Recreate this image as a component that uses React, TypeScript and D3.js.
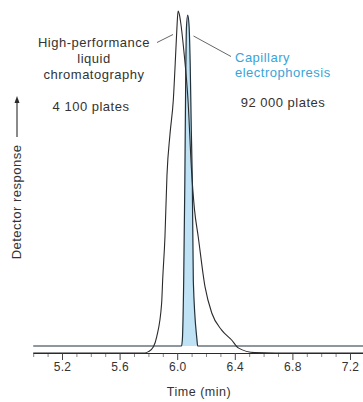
import React, { useRef, useEffect } from "react";
import * as d3 from "d3";

// ── Data (time in min, detector response in % of HPLC peak) ──────────────────

const HPLC_TIME = [5.0, 5.776, 5.8, 5.835, 5.858, 5.892, 5.899, 5.915, 5.929, 5.95, 5.973, 5.99, 5.998, 6.006, 6.015, 6.023, 6.047, 6.075, 6.1, 6.12, 6.146, 6.193, 6.24, 6.309, 6.378, 6.424, 6.54, 6.68, 7.3];
const HPLC_RESP = [0, 0, 0.4, 1.8, 4.8, 14.6, 21.3, 34, 52, 64, 74, 88, 95, 100, 99, 97, 88, 74, 53, 42, 34, 19.4, 11.7, 6.7, 3.8, 1.5, 0.1, 0, 0];

const CE_BASE = 2.05;
const CE_TIME = [5.0, 6.03, 6.036, 6.045, 6.053, 6.059, 6.064, 6.073, 6.082, 6.09, 6.098, 6.105, 6.112, 6.137, 6.142, 7.3];
const CE_RESP = [2.05, 2.05, 4, 21, 50, 80, 95, 98.8, 96, 85, 65, 50, 21, 4, 2.05, 2.05];

const MAJOR_TICKS = [5.2, 5.6, 6.0, 6.4, 6.8, 7.2];
const MINOR_TICKS = [5.0, 5.1, 5.3, 5.4, 5.5, 5.7, 5.8, 5.9, 6.1, 6.2, 6.3, 6.5, 6.6, 6.7, 6.9, 7.0, 7.1];

const HPLC_LABEL = ["High-performance", "liquid", "chromatography"];
const HPLC_PLATES = "4 100 plates";
const CE_LABEL = ["Capillary", "electrophoresis"];
const CE_PLATES = "92 000 plates";

const WIDTH = 363;
const HEIGHT = 402;
const FONT = "'Liberation Sans', Arial, sans-serif";
const INK = "#2a2a2a";
const BLUE = "#3aa3d8";

export default function App() {
  const svgRef = useRef<SVGSVGElement>(null);

  useEffect(() => {
    if (!svgRef.current) return;
    const svg = d3.select(svgRef.current);
    svg.selectAll("*").remove();

    const x = d3.scaleLinear().domain([5.0, 7.3]).range([33.2, 364.4]);
    const y = d3.scaleLinear().domain([0, 100]).range([353, 11]);

    const hplc = HPLC_TIME.map((t, i) => [t, HPLC_RESP[i]] as [number, number]);
    const ce = CE_TIME.map((t, i) => [t, CE_RESP[i]] as [number, number]);

    const line = d3
      .line<[number, number]>()
      .x((d) => x(d[0]))
      .y((d) => y(d[1]))
      .curve(d3.curveMonotoneX);

    const ceArea = d3
      .area<[number, number]>()
      .x((d) => x(d[0]))
      .y0(y(CE_BASE))
      .y1((d) => y(d[1]))
      .curve(d3.curveMonotoneX);

    // CE fill
    svg.append("path").datum(ce).attr("d", ceArea).attr("fill", "#bfe2f4");

    // minor axis
    svg
      .append("g")
      .attr("transform", `translate(0,${y(0)})`)
      .call(d3.axisBottom(x).tickValues(MINOR_TICKS).tickSize(4).tickSizeOuter(0).tickFormat(() => ""))
      .call((a) => {
        a.select(".domain").remove();
        a.selectAll(".tick line").attr("stroke", "#666").attr("stroke-width", 0.8);
      });

    // major axis
    svg
      .append("g")
      .attr("transform", `translate(0,${y(0)})`)
      .call(d3.axisBottom(x).tickValues(MAJOR_TICKS).tickSize(7).tickSizeOuter(0).tickPadding(2).tickFormat(d3.format(".1f")))
      .call((a) => {
        a.select(".domain").attr("stroke", INK).attr("stroke-width", 1);
        a.selectAll(".tick line").attr("stroke", "#444").attr("stroke-width", 1);
        a.selectAll(".tick text")
          .attr("fill", "#333")
          .attr("font-size", 12)
          .attr("letter-spacing", 0.3)
          .attr("font-family", FONT);
      });

    // HPLC trace
    svg
      .append("path")
      .datum(hplc)
      .attr("d", line)
      .attr("fill", "none")
      .attr("stroke", INK)
      .attr("stroke-width", 1.1);

    // CE trace
    svg
      .append("path")
      .datum(ce)
      .attr("d", line)
      .attr("fill", "none")
      .attr("stroke", "#22303a")
      .attr("stroke-width", 1.2);

    // leaders
    svg.append("line").attr("x1", 157).attr("y1", 42.5).attr("x2", 173).attr("y2", 34.5)
      .attr("stroke", "#555").attr("stroke-width", 0.9);
    svg.append("line").attr("x1", 193.5).attr("y1", 36).attr("x2", 231).attr("y2", 56.5)
      .attr("stroke", "#555").attr("stroke-width", 0.9);

    const txt = svg.append("g").attr("font-family", FONT).attr("font-size", 13).attr("letter-spacing", 0.5);

    HPLC_LABEL.forEach((s, i) => {
      txt.append("text").attr("x", 94).attr("y", 47 + i * 16).attr("text-anchor", "middle")
        .attr("fill", "#333").text(s);
    });
    txt.append("text").attr("x", 91).attr("y", 111).attr("text-anchor", "middle")
      .attr("fill", "#333").text(HPLC_PLATES);

    CE_LABEL.forEach((s, i) => {
      txt.append("text").attr("x", 235).attr("y", 62 + i * 15).attr("fill", BLUE).text(s);
    });
    txt.append("text").attr("x", 283).attr("y", 107).attr("text-anchor", "middle")
      .attr("fill", "#333").text(CE_PLATES);

    // x title
    txt.append("text").attr("x", 199).attr("y", 396).attr("text-anchor", "middle")
      .attr("fill", "#333").attr("font-size", 12.5).text("Time (min)");

    // y title with arrow
    txt.append("text")
      .attr("transform", `translate(21,202) rotate(-90)`)
      .attr("text-anchor", "middle")
      .attr("fill", "#333")
      .attr("font-size", 13)
      .text("Detector response");

    svg.append("line").attr("x1", 17).attr("y1", 137).attr("x2", 17).attr("y2", 101)
      .attr("stroke", INK).attr("stroke-width", 1.1);
    svg.append("path").attr("d", "M17,96 L14.5,103 L19.5,103 Z").attr("fill", INK);
  }, []);

  return (
    <div style={{ position: "absolute", left: 0, top: 0 }}>
      <svg ref={svgRef} width={WIDTH} height={HEIGHT} style={{ display: "block", background: "#fff" }} />
    </div>
  );
}
